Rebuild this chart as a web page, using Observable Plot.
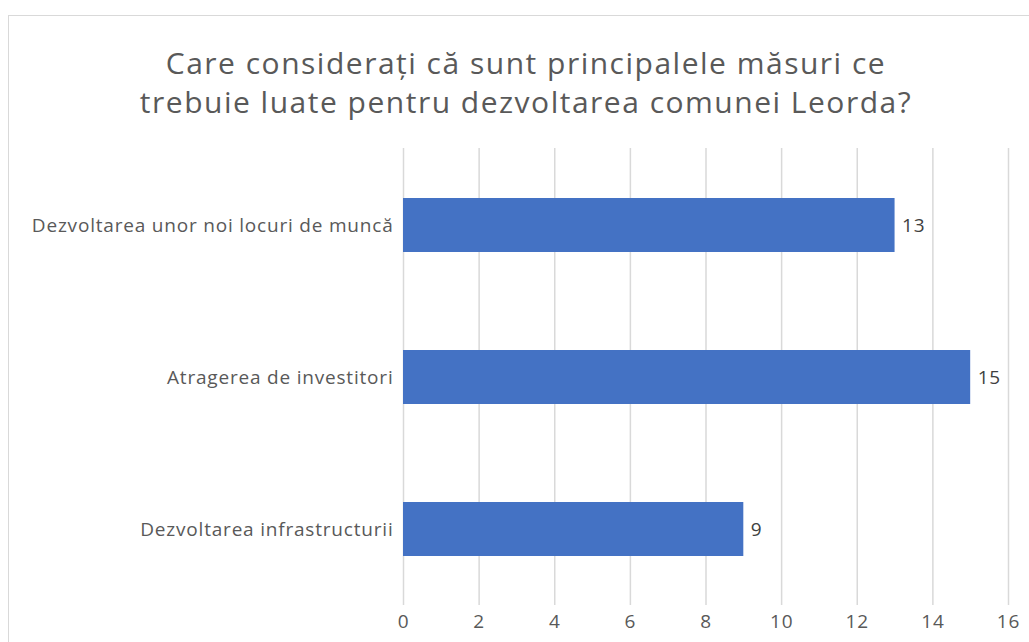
<!DOCTYPE html>
<html>
<head>
<meta charset="utf-8">
<script src="https://cdn.jsdelivr.net/npm/d3@7"></script>
<script src="https://cdn.jsdelivr.net/npm/@observablehq/plot@0.6"></script>
<style>
  html, body { margin: 0; padding: 0; background: #fff; overflow: hidden; }
  #wrap { position: relative; width: 1029px; height: 642px; overflow: hidden; font-family: "Open Sans", sans-serif; }
  #frame { position: absolute; left: 8px; top: 15px; width: 1100px; height: 700px; border: 1.5px solid #d9d9d9; box-sizing: border-box; }
  #title { position: absolute; left: 0; top: 43px; width: 1052px; text-align: center; color: #595959; font-size: 30px; line-height: 39px; letter-spacing: 1.5px; white-space: nowrap; }
  #chart { position: absolute; left: 0; top: 0; }
  #chart svg text { letter-spacing: 0.8px; }
</style>
</head>
<body>
<div id="wrap">
  <div id="frame"></div>
  <div id="title">Care considerați că sunt principalele măsuri ce<br>trebuie luate pentru dezvoltarea comunei Leorda?</div>
  <div id="chart"></div>
</div>
<script>
const categories = ["Dezvoltarea unor noi locuri de muncă", "Atragerea de investitori", "Dezvoltarea infrastructurii"];
const values = [13, 15, 9];
const xTicks = [0, 2, 4, 6, 8, 10, 12, 14, 16];

const data = categories.map((c, i) => ({category: c, value: values[i]}));

const plot = Plot.plot({
  width: 1029,
  height: 642,
  marginLeft: 403,
  marginRight: 21,
  marginTop: 148,
  marginBottom: 37,
  style: {fontFamily: "'Open Sans', sans-serif", fontSize: "19px", color: "#595959", background: "transparent"},
  x: {domain: [0, 16], ticks: xTicks, label: null},
  y: {domain: categories, paddingInner: 0.646, paddingOuter: 0.323, label: null},
  marks: [
    Plot.gridX(xTicks, {stroke: "#d9d9d9", strokeOpacity: 1, strokeWidth: 1.5}),
    Plot.barX(data, {x: "value", y: "category", fill: "#4472c4"}),
    Plot.text(data, {x: "value", y: "category", text: d => String(d.value), textAnchor: "start", dx: 7, fill: "#404040", fontSize: 19}),
    Plot.axisX({ticks: xTicks, tickSize: 0, tickPadding: 9, fontSize: 19, color: "#595959"}),
    Plot.axisY({tickSize: 0, tickPadding: 10, fontSize: 19, color: "#595959"})
  ]
});
document.getElementById("chart").appendChild(plot);
</script>
</body>
</html>
